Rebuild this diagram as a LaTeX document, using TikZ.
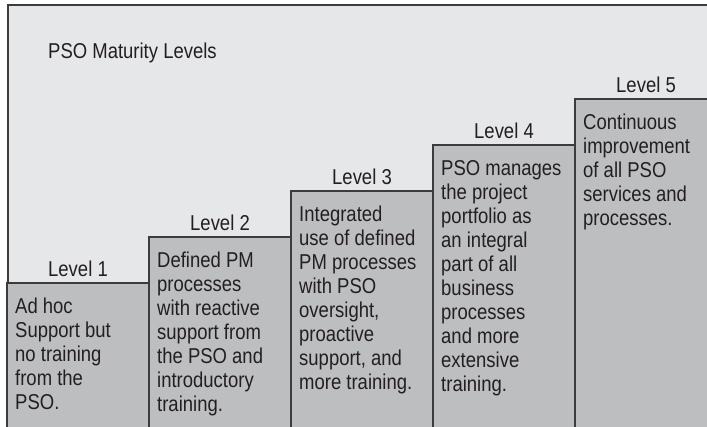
\documentclass[tikz,border=0pt]{standalone}
\usepackage{fontspec}
\setmainfont[FakeStretch=0.86]{Liberation Sans}
\definecolor{bgc}{HTML}{E6E7E8}
\definecolor{boxc}{HTML}{BCBEC0}
\definecolor{linec}{HTML}{3C3C3C}
\definecolor{txtc}{HTML}{231F20}
\newcommand\linestack[1]{\vtop{\halign{##\hfil\cr#1\crcr}}}
\tikzset{
  stepbox/.style={draw=linec, line width=1.3pt, fill=boxc, anchor=north west,
    minimum width=142pt, minimum height=380pt, inner sep=0pt, outer sep=0pt},
  levellabel/.style={anchor=base, inner sep=0pt, text=txtc,
    font=\fontsize{21.5}{24}\selectfont},
  boxtext/.style={anchor=base west, inner sep=0pt, text=txtc,
    font=\fontsize{21.5}{24}\selectfont},
}
\begin{document}
\begin{tikzpicture}[x=1pt,y=-1pt]
\useasboundingbox (0,0) rectangle (707,426);
\clip (0,0) rectangle (707,426);
\node[draw=linec, line width=2pt, fill=bgc, anchor=north west, minimum width=760pt,
  minimum height=480pt, inner sep=0pt] (frame) at (7,4) {};
\node[anchor=base west, inner sep=0pt, text=txtc, font=\fontsize{21.5}{24}\selectfont]
  (title) at (48,58) {PSO Maturity Levels};
\node[stepbox] (b1) at (7,283) {};
\node[stepbox] (b2) at (149,237) {};
\node[stepbox] (b3) at (291,191) {};
\node[stepbox] (b4) at (433,145) {};
\node[stepbox] (b5) at (575,99) {};
\foreach \i in {1,...,5} {
  \node[levellabel] (l\i) at ([yshift=7pt]b\i.north) {Level \i};
}
\node[boxtext] (t1) at ([xshift=8pt,yshift=-30pt]b1.north west)
  {\linestack{Ad hoc\cr Support but\cr no training\cr from the\cr PSO.}};
\node[boxtext] (t2) at ([xshift=8pt,yshift=-30pt]b2.north west)
  {\linestack{Defined PM\cr processes\cr with reactive\cr support from\cr the PSO and\cr introductory\cr training.}};
\node[boxtext] (t3) at ([xshift=8pt,yshift=-30pt]b3.north west)
  {\linestack{Integrated\cr use of defined\cr PM processes\cr with PSO\cr oversight,\cr proactive\cr support, and\cr more training.}};
\node[boxtext] (t4) at ([xshift=8pt,yshift=-30pt]b4.north west)
  {\linestack{PSO manages\cr the project\cr portfolio as\cr an integral\cr part of all\cr business\cr processes\cr and more\cr extensive\cr training.}};
\node[boxtext] (t5) at ([xshift=8pt,yshift=-30pt]b5.north west)
  {\linestack{Continuous\cr improvement\cr of all PSO\cr services and\cr processes.}};
\end{tikzpicture}
\end{document}
